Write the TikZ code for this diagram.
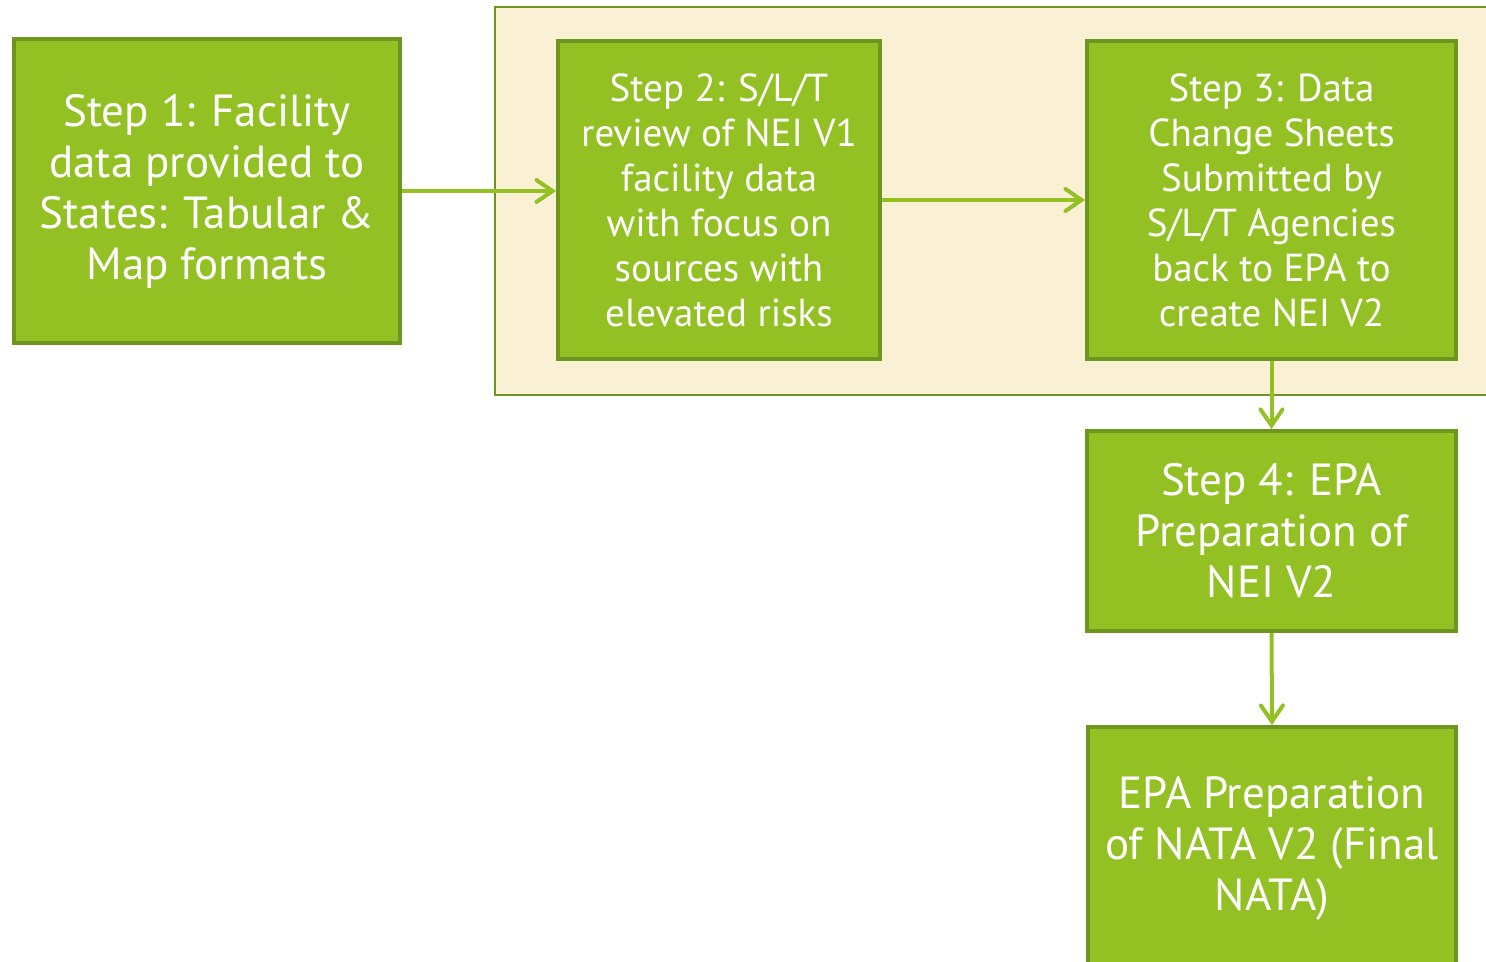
\documentclass[tikz,border=0pt]{standalone}
\usepackage{fontspec}
\setmainfont{PT Sans}
\usetikzlibrary{arrows.meta, positioning}
\definecolor{boxgreen}{HTML}{93C123}
\definecolor{edgegreen}{HTML}{6E951D}
\definecolor{cream}{HTML}{FAF0D3}
\tikzset{
  stepbox/.style={draw=edgegreen, fill=boxgreen, line width=2pt, text=white, align=center, inner sep=0pt},
  bigtext/.style={font=\fontsize{22.5}{25.5}\selectfont},
  smalltext/.style={font=\fontsize{19.5}{22.5}\selectfont},
  flow/.style={draw=boxgreen, line width=2pt, -{Straight Barb[length=8pt, width=11pt, line cap=round]}}
}

\begin{document}
\begin{tikzpicture}[x=0.5pt, y=-0.5pt]
\clip (0, 0) rectangle (1486, 962);
\fill[white] (0, 0) rectangle (1486, 962);
\node[draw=edgegreen, fill=cream, line width=1pt, minimum width=499pt, minimum height=194pt, inner sep=0pt] (group) at (994, 201) {};
\node[stepbox, bigtext, minimum width=193pt, minimum height=152pt] (s1) at (207, 191) {Step 1: Facility\\data provided to\\States: Tabular \&\\Map formats};
\node[stepbox, smalltext, minimum width=161pt, minimum height=159pt] (s2) at (719, 200) {Step 2: S/L/T\\review of NEI V1\\facility data\\with focus on\\sources with\\elevated risks};
\node[stepbox, smalltext, minimum width=184.5pt, minimum height=159pt] (s3) at (1271.5, 200) {Step 3: Data\\Change Sheets\\Submitted by\\S/L/T Agencies\\back to EPA to\\create NEI V2};
\node[stepbox, bigtext, minimum width=184.5pt, minimum height=100pt] (s4) at (1271.5, 531) {Step 4: EPA\\Preparation of\\NEI V2};
\node[stepbox, bigtext, minimum width=184pt, minimum height=121pt] (s5) at (1272, 848) {EPA Preparation\\of NATA V2 (Final\\NATA)};
\draw[flow] (s1.east) -- (s1.east -| s2.west);
\draw[flow] (s2.east) -- (s3.west);
\draw[flow] (s3.south) -- (s4.north);
\draw[flow] (s4.south) -- (s5.north);
\end{tikzpicture}
\end{document}
